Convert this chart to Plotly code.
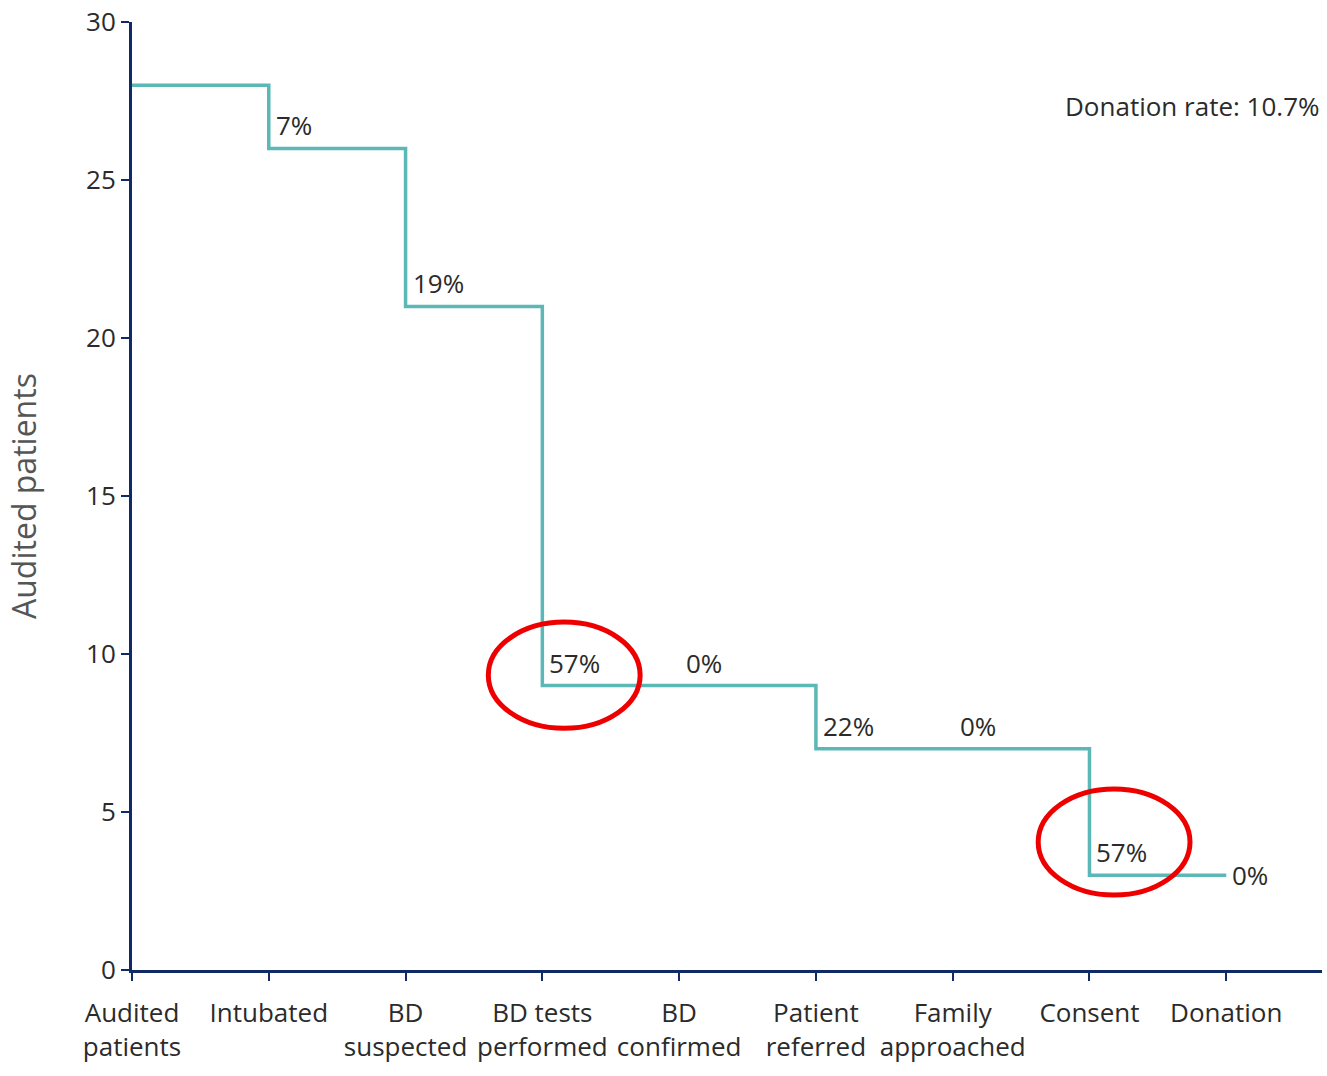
import plotly.graph_objects as go

categories = ["Audited<br>patients", "Intubated", "BD<br>suspected", "BD tests<br>performed",
              "BD<br>confirmed", "Patient<br>referred", "Family<br>approached", "Consent", "Donation"]
patients = [28, 26, 21, 9, 9, 7, 7, 3, 3]
drop_labels = ["", "7%", "19%", "57%", "0%", "22%", "0%", "57%", "0%"]
highlighted = [3, 7]
donation_rate_text = "Donation rate: 10.7%"
y_ticks = [0, 5, 10, 15, 20, 25, 30]

FONT = "Open Sans"
TEXT = "#2b2b2b"
AXIS = "#0f2a66"
LINE = "#5cb7b7"

x_idx = list(range(len(categories)))

fig = go.Figure()
fig.add_trace(go.Scatter(x=x_idx, y=patients, mode="lines", line=dict(color=LINE, width=3.5, shape="hv"),
                         hoverinfo="skip", showlegend=False))

last = len(categories) - 1
for i, lab in enumerate(drop_labels):
    if not lab:
        continue
    if i == last:
        fig.add_annotation(x=i, y=patients[i], text=lab, showarrow=False, xanchor="left", yanchor="middle",
                           xshift=4, font=dict(family=FONT, size=26, color=TEXT))
    else:
        fig.add_annotation(x=i, y=patients[i], text=lab, showarrow=False, xanchor="left", yanchor="bottom",
                           xshift=5, yshift=3, font=dict(family=FONT, size=26, color=TEXT))

# hand-drawn style highlight ellipses around selected drop labels (offsets relative to the step)
ellipse_offsets = {3: (0.16, 0.33), 7: (0.18, 1.05)}
for i in highlighted:
    dx, dy = ellipse_offsets[i]
    cx, cy = i + dx, patients[i] + dy
    fig.add_shape(type="circle", xref="x", yref="y", x0=cx - 0.555, x1=cx + 0.555, y0=cy - 1.68, y1=cy + 1.68,
                  line=dict(color="#ee0000", width=5))

fig.add_annotation(xref="paper", yref="paper", x=1.0, y=0.911, text=donation_rate_text, showarrow=False,
                   xanchor="right", yanchor="middle", font=dict(family=FONT, size=26, color=TEXT))

fig.add_annotation(xref="paper", yref="paper", x=-0.0916, y=0.5, text="Audited patients", textangle=-90,
                   showarrow=False, xanchor="center", yanchor="middle",
                   font=dict(family=FONT, size=32, color="#555555"))

fig.update_xaxes(range=[0, 8.7], tickmode="array", tickvals=x_idx, ticktext=categories,
                 showline=True, linecolor=AXIS, linewidth=3, ticks="outside", ticklen=8, tickwidth=2,
                 tickcolor=AXIS, showgrid=False, zeroline=False, automargin=False, ticklabelstandoff=10,
                 ticklabeloverflow="allow", tickfont=dict(family=FONT, size=26, color=TEXT))
fig.update_yaxes(range=[0, 30], tickvals=y_ticks, showline=True, linecolor=AXIS, linewidth=3,
                 ticks="outside", ticklen=8, tickwidth=2, tickcolor=AXIS, showgrid=False, zeroline=False,
                 automargin=False, ticklabeloverflow="allow", tickfont=dict(family=FONT, size=26, color=TEXT))

fig.update_layout(width=1327, height=1076, margin=dict(l=132, r=5, t=22, b=106),
                  plot_bgcolor="white", paper_bgcolor="white")

# remove the browser's default 8px body margin so the figure sits at the page origin
fig.write_html("out.html", config={"displayModeBar": False},
               post_script="document.body.style.margin='0';document.body.style.overflow='hidden';")
